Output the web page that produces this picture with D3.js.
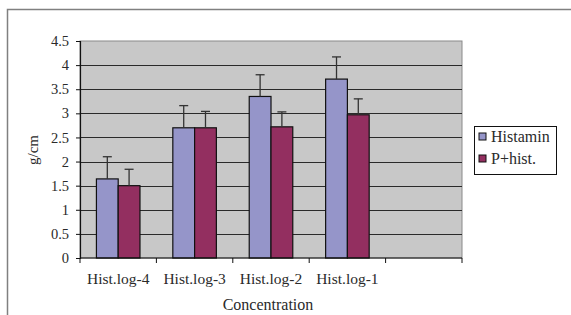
<!DOCTYPE html>
<html>
<head>
<meta charset="utf-8">
<script src="https://cdn.jsdelivr.net/npm/d3@7/dist/d3.min.js"></script>
<style>
  body { margin: 0; background: #fff; }
  svg text { font-family: "Liberation Serif", "DejaVu Serif", serif; fill: #2a2a2a; }
</style>
</head>
<body>
<svg id="chart" width="571" height="315"></svg>
<script>
'use strict';

// categories on the x axis (last slot is empty in the original)
var categories = ['Hist.log-4', 'Hist.log-3', 'Hist.log-2', 'Hist.log-1', ''];
var seriesNames = ['Histamin', 'P+hist.'];
var histamin = [1.64, 2.70, 3.35, 3.71];
var pHist = [1.50, 2.70, 2.72, 2.97];
var histaminErr = [0.46, 0.46, 0.45, 0.46];
var pHistErr = [0.34, 0.34, 0.31, 0.33];
var yTicks = [0, 0.5, 1, 1.5, 2, 2.5, 3, 3.5, 4, 4.5];
var colors = ['#9595c9', '#932f60'];

var svg = d3.select('#chart');

// outer chart frame (open at right and bottom, as in the picture)
svg.append('path')
    .attr('d', 'M7.5,315 L7.5,9.5 L571,9.5')
    .attr('fill', 'none')
    .attr('stroke', '#808080')
    .attr('stroke-width', 1.5);

var plot = {left: 80, top: 41, right: 462, bottom: 258};

var x = d3.scaleBand()
    .domain(d3.range(categories.length))
    .range([plot.left, plot.right]);

var y = d3.scaleLinear()
    .domain([0, 4.5])
    .range([plot.bottom, plot.top]);

var inner = d3.scaleBand()
    .domain(seriesNames)
    .range([0, x.bandwidth() * 0.57]);

//plot background
svg.append('rect')
    .attr('x', plot.left)
    .attr('y', plot.top)
    .attr('width', plot.right - plot.left)
    .attr('height', plot.bottom - plot.top)
    .attr('fill', '#c8c8c8')
    .attr('stroke', '#8a8a8a')
    .attr('stroke-width', 1);

//gridlines
svg.append('g').selectAll('line')
    .data(yTicks.filter(function (d) { return d > 0 && d < 4.5; }))
  .enter().append('line')
    .attr('x1', plot.left)
    .attr('x2', plot.right)
    .attr('y1', function (d) { return Math.round(y(d)) + 0.5; })
    .attr('y2', function (d) { return Math.round(y(d)) + 0.5; })
    .attr('stroke', '#2a2a2a')
    .attr('stroke-width', 1);

//bars
var rows = [histamin, pHist];
var errs = [histaminErr, pHistErr];
var bars = [];
seriesNames.forEach(function (s, i) {
    rows[i].forEach(function (v, j) {
        bars.push({series: s, idx: i, cat: j, value: v, err: errs[i][j]});
    });
});

function barX(d) {
    return x(d.cat) + (x.bandwidth() - inner.range()[1]) / 2 + inner(d.series);
}

svg.append('g').selectAll('rect')
    .data(bars)
  .enter().append('rect')
    .attr('x', barX)
    .attr('y', function (d) { return y(d.value); })
    .attr('width', inner.bandwidth())
    .attr('height', function (d) { return plot.bottom - y(d.value); })
    .attr('fill', function (d) { return colors[d.idx]; })
    .attr('stroke', '#111')
    .attr('stroke-width', 1.2);

//error bars (upper only)
var eb = svg.append('g').attr('stroke', '#333').attr('stroke-width', 1.3);
bars.forEach(function (d) {
    var cx = barX(d) + inner.bandwidth() / 2;
    eb.append('line')
        .attr('x1', cx).attr('x2', cx)
        .attr('y1', y(d.value)).attr('y2', y(d.value + d.err));
    eb.append('line')
        .attr('x1', cx - 4.5).attr('x2', cx + 4.5)
        .attr('y1', y(d.value + d.err)).attr('y2', y(d.value + d.err));
});

//y axis
var yAxis = svg.append('g')
    .attr('transform', 'translate(' + plot.left + ',0)')
    .call(d3.axisLeft(y).tickValues(yTicks).tickSize(4).tickPadding(7)
        .tickFormat(function (d) { return String(d); }));
yAxis.select('.domain').attr('stroke', '#111').attr('stroke-width', 1.2);
yAxis.selectAll('.tick line').attr('stroke', '#111');
yAxis.selectAll('text').style('font-size', '14.5px').attr('fill', '#333');

//x axis with ticks at band boundaries
var xAxisG = svg.append('g')
    .attr('transform', 'translate(0,' + plot.bottom + ')');
xAxisG.append('line')
    .attr('x1', plot.left).attr('x2', plot.right)
    .attr('stroke', '#111').attr('stroke-width', 1.2);
xAxisG.selectAll('.xtick')
    .data(d3.range(categories.length + 1))
  .enter().append('line')
    .attr('x1', function (i) { return plot.left + i * x.step(); })
    .attr('x2', function (i) { return plot.left + i * x.step(); })
    .attr('y1', 0).attr('y2', 5)
    .attr('stroke', '#111');
xAxisG.selectAll('.xlabel')
    .data(categories)
  .enter().append('text')
    .attr('x', function (d, i) { return x(i) + x.bandwidth() / 2; })
    .attr('y', 26)
    .attr('text-anchor', 'middle')
    .style('font-size', '15.5px')
    .text(function (d) { return d; });

//axis titles
svg.append('text')
    .attr('x', 268).attr('y', 310)
    .attr('text-anchor', 'middle')
    .style('font-size', '16px')
    .text('Concentration');

svg.append('text')
    .attr('transform', 'translate(38,150) rotate(-90)')
    .attr('text-anchor', 'middle')
    .style('font-size', '15px')
    .text('g/cm');

//legend
var legend = svg.append('g');
legend.append('rect')
    .attr('x', 474.5).attr('y', 126.5)
    .attr('width', 82).attr('height', 48)
    .attr('fill', '#fff')
    .attr('stroke', '#111');
var li = legend.selectAll('.item')
    .data(seriesNames)
  .enter().append('g')
    .attr('transform', function (d, i) { return 'translate(479,' + (133 + i * 22) + ')'; });
li.append('rect')
    .attr('width', 7).attr('height', 7)
    .attr('fill', function (d, i) { return colors[i]; })
    .attr('stroke', '#111');
li.append('text')
    .attr('x', 12).attr('y', 8.5)
    .style('font-size', '16px')
    .text(function (d) { return d; });
</script>
</body>
</html>
